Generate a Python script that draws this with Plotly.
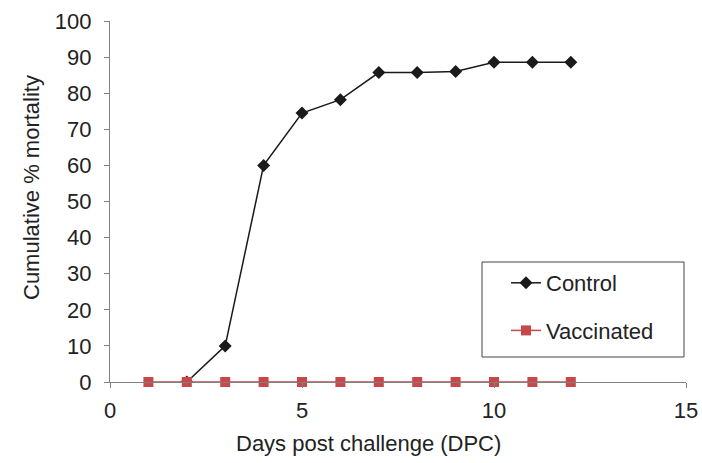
import plotly.graph_objects as go

control_days = [2, 3, 4, 5, 6, 7, 8, 9, 10, 11, 12]
control_mortality = [0, 10, 60, 74.5, 78.2, 85.7, 85.7, 86.0, 88.6, 88.6, 88.6]
vacc_days = [1, 2, 3, 4, 5, 6, 7, 8, 9, 10, 11, 12]
vacc_mortality = [0, 0, 0, 0, 0, 0, 0, 0, 0, 0, 0, 0]
x_ticks = [0, 5, 10, 15]
y_ticks = [0, 10, 20, 30, 40, 50, 60, 70, 80, 90, 100]

FONT = "Liberation Sans, Arial, sans-serif"
TXT = "#222"
PW, PH, L, B = 576, 361, 110, 382

def px_x(p):
    return (p - L) / PW

def px_y(p):
    return (B - p) / PH

fig = go.Figure()
fig.add_trace(go.Scatter(
    x=control_days, y=control_mortality, name="Control", mode="lines+markers",
    line=dict(color="#1a1a1a", width=1.5),
    marker=dict(symbol="diamond", size=10, color="#1a1a1a"),
    legendgroup="a"))
fig.add_trace(go.Scatter(
    x=vacc_days, y=vacc_mortality, name="Vaccinated", mode="lines+markers",
    line=dict(color="#c8474b", width=1.5),
    marker=dict(symbol="square", size=10, color="#c8474b"),
    legendgroup="b", cliponaxis=False))

fig.update_layout(
    width=702, height=463,
    margin=dict(l=110, r=16, t=21, b=81, autoexpand=False),
    paper_bgcolor="white", plot_bgcolor="white",
    font=dict(family=FONT, size=20, color=TXT),
    showlegend=True,
    legend=dict(x=px_x(506), y=px_y(262), xanchor="left", yanchor="top",
                borderwidth=0, bgcolor="rgba(0,0,0,0)",
                font=dict(family=FONT, size=22, color=TXT),
                tracegroupgap=16, traceorder="grouped"),
    xaxis=dict(range=[0, 15], tickvals=x_ticks, showgrid=False, zeroline=False,
               showline=True, linecolor="#808080", linewidth=1.2,
               ticks="outside", ticklen=5, tickcolor="#808080", automargin=False,
               ticklabelstandoff=3,
               tickfont=dict(family=FONT, size=22, color=TXT)),
    yaxis=dict(range=[0, 100], tickvals=y_ticks, showgrid=False, zeroline=False,
               showline=True, linecolor="#808080", linewidth=1.2,
               ticks="outside", ticklen=5, tickcolor="#808080", automargin=False,
               ticklabelstandoff=8,
               tickfont=dict(family=FONT, size=22, color=TXT)),
    shapes=[dict(type="rect", xref="paper", yref="paper",
                 x0=px_x(482), x1=px_x(684), y0=px_y(357), y1=px_y(262),
                 line=dict(color="#444", width=1), fillcolor="white", layer="below")],
    annotations=[
        dict(text="Days post challenge (DPC)", xref="paper", yref="paper",
             x=px_x(368), y=px_y(443), showarrow=False,
             xanchor="center", yanchor="middle",
             font=dict(family=FONT, size=22, color=TXT)),
        dict(text="Cumulative % mortality", xref="paper", yref="paper",
             x=px_x(31), y=px_y(188), showarrow=False, textangle=-90,
             xanchor="center", yanchor="middle",
             font=dict(family=FONT, size=22, color=TXT)),
    ],
)
fig.write_html("out.html", config={"displayModeBar": False},
               post_script="document.body.style.margin='0';document.body.style.padding='0';")
